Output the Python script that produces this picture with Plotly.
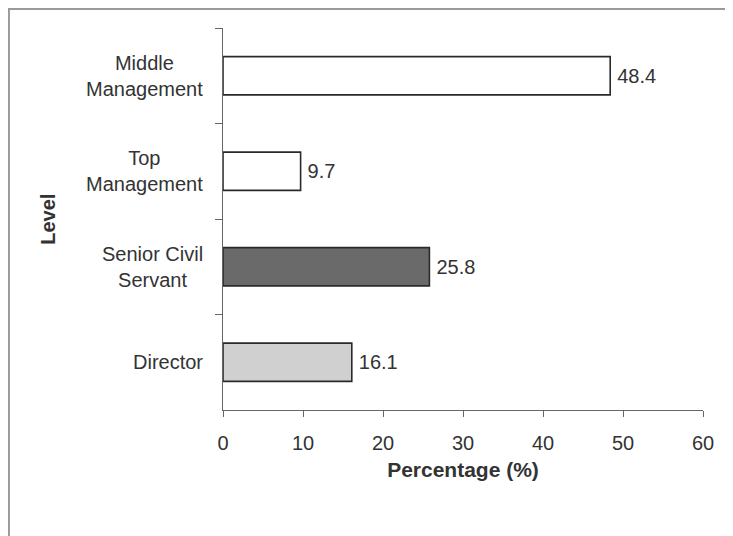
import plotly.graph_objects as go

categories = ["Middle<br>Management", "Top<br>Management", "Senior Civil<br>Servant", "Director"]
values = [48.4, 9.7, 25.8, 16.1]
value_labels = ["48.4", "9.7", "25.8", "16.1"]
bar_colors = ["#ffffff", "#ffffff", "#6a6a6a", "#d0d0d0"]
x_ticks = [0, 10, 20, 30, 40, 50, 60]

FONT = "Liberation Sans Narrow, Arial Narrow, Liberation Sans, Arial, sans-serif"
TXT = "#333333"

fig = go.Figure()
fig.add_trace(go.Bar(
    y=categories, x=values, orientation="h",
    marker=dict(color=bar_colors, line=dict(color="#2a2a2a", width=1.6)),
    width=0.4,
    text=value_labels, textposition="outside",
    texttemplate="\u2009%{text}",
    textfont=dict(family=FONT, size=20, color=TXT),
    cliponaxis=False,
))

# category labels, centred multi-line like the original
annotations = [
    dict(x=-0.0375, xref="paper", y=c, yref="y", text=c, showarrow=False,
         xanchor="right", yanchor="middle", align="center",
         font=dict(family=FONT, size=20, color=TXT))
    for c in categories
]
annotations.append(dict(x=-0.365, xref="paper", y=0.5, yref="paper",
                        text="<b>Level</b>", textangle=-90, showarrow=False,
                        xanchor="center", yanchor="middle",
                        font=dict(family=FONT, size=20, color=TXT)))

fig.update_layout(
    width=725, height=528,
    margin=dict(l=215, r=30, t=20, b=126),
    paper_bgcolor="white", plot_bgcolor="white",
    showlegend=False,
    font=dict(family=FONT, size=20, color=TXT),
    xaxis=dict(
        range=[0, 60], tickvals=x_ticks, ticks="outside", ticklen=6,
        tickcolor="#666", showline=True, linecolor="#666", linewidth=1,
        showgrid=False, zeroline=False, ticklabelstandoff=9,
        tickfont=dict(family=FONT, size=20, color=TXT),
        title=dict(text="<b>Percentage (%)</b>", standoff=9,
                   font=dict(family=FONT, size=21, color=TXT)),
    ),
    yaxis=dict(
        autorange="reversed", ticks="outside", ticklen=7, tickson="boundaries",
        tickcolor="#666", showline=True, linecolor="#666", linewidth=1,
        showgrid=False, zeroline=False, showticklabels=False,
    ),
    annotations=annotations,
    shapes=[dict(type="rect", xref="paper", yref="paper",
                 x0=-0.446, x1=1.08, y0=-0.36, y1=1.05,
                 line=dict(color="#9a9a9a", width=2), layer="below")],
)

fig.write_html("out.html")
